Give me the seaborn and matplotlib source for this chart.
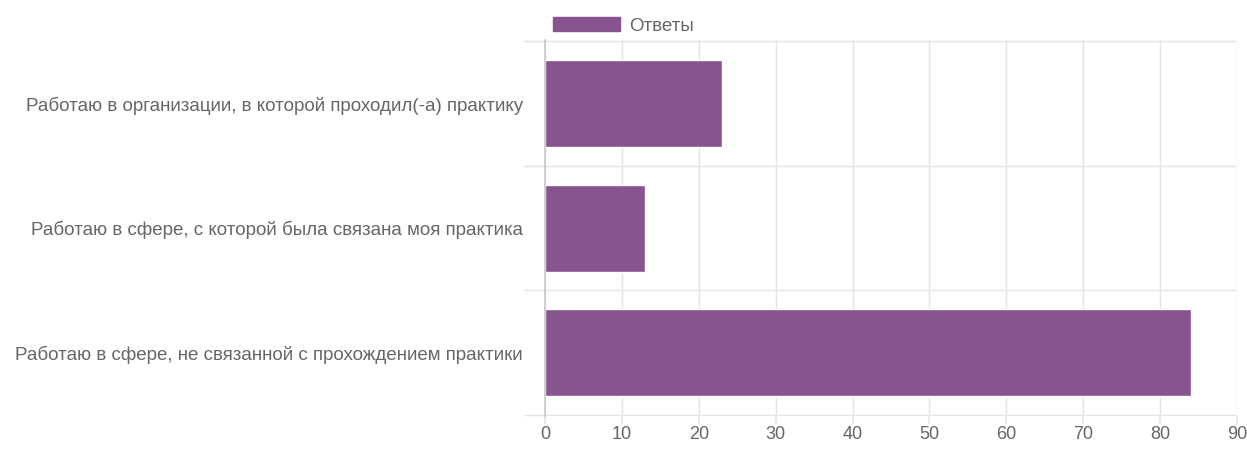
import pandas as pd
import matplotlib.pyplot as plt
import seaborn as sns
from matplotlib.patches import Patch

sns.set_theme(style="white")
plt.rcParams['font.family'] = ['Liberation Sans', 'DejaVu Sans']

categories = [
    "Работаю в организации, в которой проходил(-а) практику",
    "Работаю в сфере, с которой была связана моя практика",
    "Работаю в сфере, не связанной с прохождением практики",
]
values = [23, 13, 84]
series_name = "Ответы"
bar_color = "#87548f"
text_color = "#666666"
grid_color = "#e5e5e5"

df = pd.DataFrame({"category": categories, "value": values})

fig = plt.figure(figsize=(12.47, 4.5), dpi=100)
ax = fig.add_axes([0.437, 0.075, 0.555, 0.836])

sns.barplot(data=df, y="category", x="value", color=bar_color, width=0.7,
            saturation=1, ax=ax)

ax.set_xlim(0, 90)
ax.set_ylim(2.51, -0.51)
ax.set_xticks(range(0, 91, 10))
ax.set_yticks([-0.5, 0.5, 1.5, 2.5], minor=True)
ax.set_xlabel("")
ax.set_ylabel("")

ax.grid(axis="x", color=grid_color, linewidth=1)
ax.grid(axis="y", which="minor", color=grid_color, linewidth=1)
ax.set_axisbelow(True)

for side in ["top", "right", "bottom"]:
    ax.spines[side].set_visible(False)
ax.spines["left"].set_color("#c8c8c8")
ax.spines["left"].set_linewidth(1.2)

ax.tick_params(axis="x", bottom=True, length=6, color=grid_color, labelsize=13,
               labelcolor=text_color, pad=1)
ax.tick_params(axis="y", which="major", left=False, length=0, labelsize=13.5,
               labelcolor=text_color, pad=16)
ax.tick_params(axis="y", which="minor", left=True, length=15, color=grid_color, width=1)

handle = Patch(facecolor=bar_color, edgecolor=bar_color)
fig.legend([handle], [series_name], loc="upper center", bbox_to_anchor=(0.5, 1.0),
           frameon=False, fontsize=13.5, labelcolor=text_color,
           handlelength=3.6, handleheight=0.8, handletextpad=0.5)

fig.savefig("out.png", dpi=100)
